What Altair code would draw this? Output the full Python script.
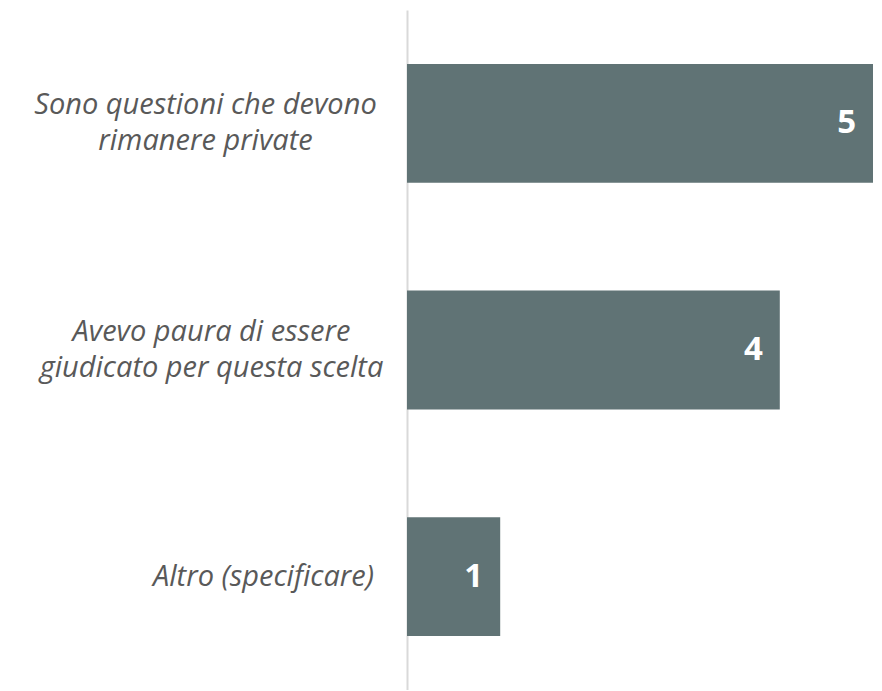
import altair as alt
import pandas as pd

categories = [
    "Sono questioni che devono\nrimanere private",
    "Avevo paura di essere\ngiudicato per questa scelta",
    "Altro (specificare)",
]
values = [5, 4, 1]

df = pd.DataFrame({"categoria": categories, "valore": values})

two_lines = "indexof(datum.value, '\\n') >= 0"

y_enc = alt.Y(
    "categoria:N",
    sort=categories,
    title=None,
    scale=alt.Scale(paddingInner=0.476, paddingOuter=0.238),
    axis=alt.Axis(
        labelExpr="split(datum.label, '\\n')",
        labelFont="Open Sans",
        labelFontStyle="italic",
        labelFontSize=29,
        labelColor="#595959",
        labelLineHeight=36,
        labelAlign="center",
        labelBaseline="middle",
        labelPadding={
            "condition": [
                {"test": "indexof(datum.value, 'Altro') == 0", "value": 144},
                {"test": "indexof(datum.value, 'Avevo') == 0", "value": 196},
            ],
            "value": 202,
        },
        labelOffset={"condition": {"test": two_lines, "value": -18}, "value": 0},
        labelLimit=400,
        ticks=False,
        domainColor="#D9D9D9",
        domainWidth=2,
        grid=False,
    ),
)

x_enc = alt.X(
    "valore:Q",
    title=None,
    scale=alt.Scale(domain=[0, 5], nice=False),
    axis=None,
)

bars = alt.Chart(df).mark_bar(color="#607375").encode(y=y_enc, x=x_enc)

labels = alt.Chart(df).mark_text(
    align="right",
    baseline="middle",
    dx=-17,
    color="white",
    font="Open Sans",
    fontWeight="bold",
    fontSize=33,
).encode(y=alt.Y("categoria:N", sort=categories), x="valore:Q", text="valore:Q")

chart = (
    alt.layer(bars, labels)
    .properties(
        width=466,
        height=680,
        padding={"left": 399, "top": 2, "right": 0, "bottom": 0},
        autosize=alt.AutoSizeParams(type="none"),
    )
    .configure(background="white", view=alt.ViewConfig(stroke=None))
)

chart.save("out.html", embed_options={"renderer": "svg", "actions": False})
